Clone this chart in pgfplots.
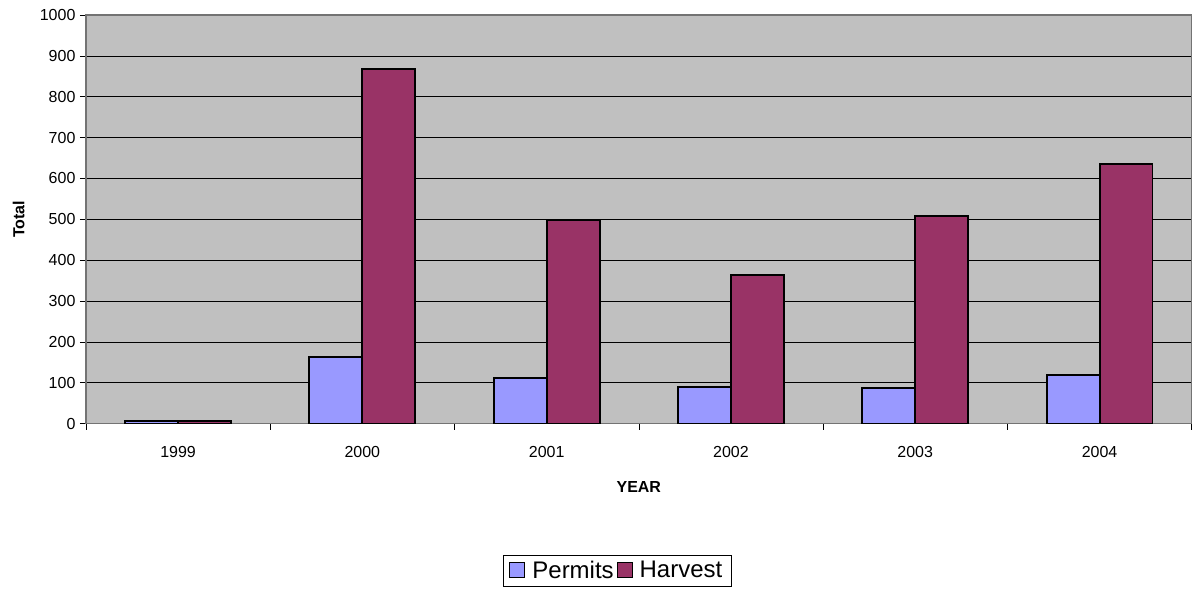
\documentclass[border=0pt]{standalone}
\usepackage{pgfplots}
\pgfplotsset{compat=1.18}
\usepackage{fontspec}
\setmainfont{Liberation Sans}
\definecolor{permits}{HTML}{9999FF}
\definecolor{harvest}{HTML}{993366}
\definecolor{plotbg}{HTML}{C0C0C0}
\begin{document}
\begin{tikzpicture}
\begin{axis}[
  name=ax,
  scale only axis,
  width=1107bp, height=409bp,
  xmin=-0.5, xmax=5.5,
  ymin=0, ymax=1000,
  ytick={0,100,...,1000},
  xtick={-0.5,0.5,1.5,2.5,3.5,4.5,5.5},
  xticklabels={},
  extra x ticks={0,1,2,3,4,5},
  extra x tick labels={1999,2000,2001,2002,2003,2004},
  extra x tick style={major tick length=0pt, grid=none, xticklabel style={yshift=-19bp}},
  xtick pos=bottom, ytick pos=left,
  tick align=outside,
  major tick length=6bp,
  tick style={black, line width=0.6pt},
  ymajorgrids,
  major grid style={black, line width=0.6pt},
  axis background/.style={fill=plotbg},
  axis line style={draw=black!55, line width=1.5pt},
  /pgf/number format/assume math mode=true,
  /pgf/number format/set thousands separator={},
  ticklabel style={font=\fontsize{16bp}{18bp}\selectfont},
  yticklabel style={xshift=-1bp},
  ylabel={\textbf{Total}},
  xlabel={\textbf{YEAR}},
  label style={font=\fontsize{16bp}{18bp}\selectfont},
  ylabel style={at={(rel axis cs:0,0.5)}, anchor=south, yshift=58bp},
  xlabel style={yshift=-11bp},
  ybar=0pt,
  bar width=53bp,
  legend style={
    at={(rel axis cs:0,0)}, anchor=center,
    xshift=532bp, yshift=-147bp,
    draw=black, line width=0.6pt,
    font=\fontsize{24bp}{26bp}\selectfont,
    legend columns=2,
    inner xsep=6bp, inner ysep=4bp,
    nodes={inner xsep=3bp},
    /tikz/every odd column/.append style={column sep=4bp},
  },
  legend image code/.code={\draw[#1, line width=1pt] (0bp,-7bp) rectangle (15bp,8bp);},
]
\addplot[fill=permits, draw=black, line width=2pt] coordinates {(0,7) (1,163) (2,112) (3,89) (4,86) (5,119)};
\addplot[fill=harvest, draw=black, line width=2pt] coordinates {(0,7) (1,867) (2,498) (3,364) (4,508) (5,635)};
\legend{Permits,Harvest}
\end{axis}
\useasboundingbox ([xshift=-86bp, yshift=-165bp]ax.south west) rectangle ([xshift=2bp, yshift=15bp]ax.north east);
\end{tikzpicture}
\end{document}
